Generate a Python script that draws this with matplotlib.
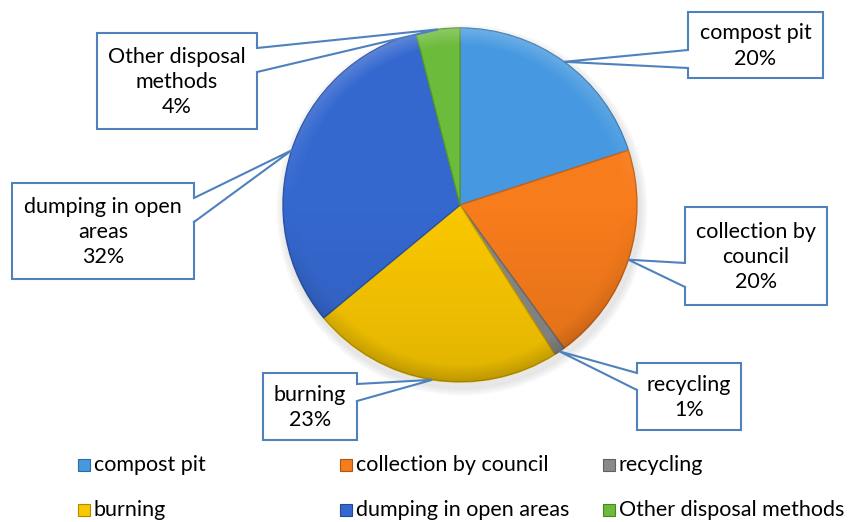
import numpy as np
import matplotlib.pyplot as plt
from matplotlib.patches import Rectangle, Polygon, Circle
from matplotlib.colors import to_rgb

plt.rcParams['font.family'] = ['Lato', 'DejaVu Sans']

# disposal methods, clockwise from 12 o'clock
methods = ['compost pit', 'collection by council', 'recycling',
           'burning', 'dumping in open areas', 'Other disposal methods']
shares = [20, 20, 1, 23, 32, 4]
box_text = ['compost pit', 'collection by\ncouncil', 'recycling',
            'burning', 'dumping in open\nareas', 'Other disposal\nmethods']
colors = ['#4699E0', '#F77C1C', '#8A8A8A', '#FAC800', '#3568CF', '#6DBB3B']

# callout boxes in pixel space: (left, top, width, height) and the side the
# pointer leaves from with its two base offsets
boxes = [
    ((688, 12, 135, 66), 'left', (38, 56)),
    ((685, 207, 142, 98), 'left', (56, 80)),
    ((637, 363, 104, 67), 'left', (10, 27)),
    ((263, 373, 94, 67), 'right', (11, 28)),
    ((12, 183, 182, 96), 'right', (15, 39)),
    ((97, 33, 160, 96), 'right', (15, 39)),
]

cx, cy, r = 460, 205, 177
W, H = 850, 522


def darker(c, f=0.75):
    return tuple(v * f for v in to_rgb(c))


fig = plt.figure(figsize=(8.5, 5.22), dpi=100)
ax = fig.add_axes([0, 0, 1, 1])

# soft shadow under the pie
for k in range(8):
    ax.add_patch(Circle((cx + 2, cy + 5), r + 1 + k, color='black',
                        alpha=0.012, zorder=0))

wedges, _ = ax.pie(shares, colors=colors, startangle=-90, counterclock=True,
                   center=(cx, cy), radius=r, frame=True,
                   wedgeprops=dict(linewidth=1.0))
for w, c in zip(wedges, colors):
    w.set_edgecolor(darker(c, 0.8))
    w.set_zorder(2)

# bevel / lighting overlay clipped to the disc
n = 400
yy, xx = np.mgrid[-1:1:n * 1j, -1:1:n * 1j]
d = np.sqrt(xx ** 2 + yy ** 2)
rim = np.clip((d - 0.9) / 0.1, 0, 1)
overlay = np.zeros((n, n, 4))
light = np.clip(-yy, 0, 1)
dark = np.clip(yy, 0, 1)
overlay[..., :3] = np.where(light[..., None] > 0, 1.0, 0.0)
overlay[..., 3] = rim * (0.22 * light + 0.25 * dark) + 0.10 * dark * (1 - rim)
img = ax.imshow(overlay, extent=(cx - r, cx + r, cy + r, cy - r),
                origin='upper', zorder=3, interpolation='bilinear')
img.set_clip_path(Circle((cx, cy), r, transform=ax.transData))

# callouts
edge = '#4F81BD'
cum = np.cumsum([0] + shares)
total = sum(shares)
for i, ((bx, by, bw, bh), side, (o1, o2)) in enumerate(boxes):
    mid = np.deg2rad(-90 + 360 * (cum[i] + shares[i] / 2) / total)
    tip = (cx + r * np.cos(mid), cy + r * np.sin(mid))
    sx = bx if side == 'left' else bx + bw
    p1, p2 = (sx, by + o1), (sx, by + o2)
    ax.add_patch(Rectangle((bx, by), bw, bh, facecolor='white',
                           edgecolor=edge, linewidth=1.5, zorder=5))
    inset = 2 if side == 'left' else -2
    ax.add_patch(Polygon([tip, (sx + inset, p1[1]), (sx + inset, p2[1])],
                         closed=True, facecolor='white', edgecolor='none',
                         zorder=6))
    ax.plot([p1[0], tip[0], p2[0]], [p1[1], tip[1], p2[1]], color=edge,
            linewidth=1.5, zorder=7, solid_joinstyle='miter')
    ax.text(bx + bw / 2, by + bh / 2 + 1, f'{box_text[i]}\n{shares[i]}%',
            ha='center', va='center', fontsize=15.5, linespacing=1.32,
            color='black', zorder=8)

# legend, three per row
col_x = [78, 340, 603]
row_y = [465, 510]
for i, (m, c) in enumerate(zip(methods, colors)):
    x, y = col_x[i % 3], row_y[i // 3]
    ax.add_patch(Rectangle((x, y - 6), 12, 12, facecolor=c,
                           edgecolor=darker(c, 0.7), linewidth=0.8, zorder=5))
    ax.text(x + 16, y, m, ha='left', va='center', fontsize=15.5, color='black')

ax.set_xlim(0, W)
ax.set_ylim(H, 0)
ax.axis('off')

fig.savefig('out.png', dpi=100)
